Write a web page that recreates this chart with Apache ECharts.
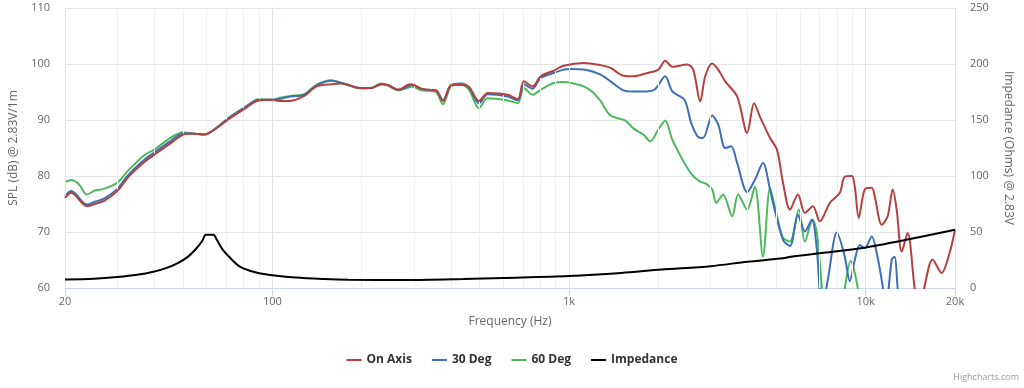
<!DOCTYPE html>
<html>
<head>
<meta charset="utf-8">
<script src="https://cdn.jsdelivr.net/npm/echarts@6/dist/echarts.min.js"></script>
<style>
html,body{margin:0;padding:0;background:#fff;}
#chart{width:1024px;height:388px;}
</style>
</head>
<body>
<div id="chart"></div>
<script>
// ---- data (frequency Hz, value) ----
const seriesNames = ['On Axis', '30 Deg', '60 Deg', 'Impedance'];
const xTickValues = [20, 100, 1000, 10000, 20000];
const xTickLabels = ['20', '100', '1k', '10k', '20k'];
const minorGridFreqs = [30,40,50,60,70,80,90,200,300,400,500,600,700,800,900,2000,3000,4000,5000,6000,7000,8000,9000];
const majorGridFreqs = [20,100,1000,10000,20000];
const splTicks = [60,70,80,90,100,110];
const impTicks = [0,50,100,150,200,250];

const onAxis = [[20,76.1],[21,77.0],[23.7,74.6],[25.2,75.0],[27,75.5],[30,77.3],[32.8,79.9],[37.2,82.6],[40,83.8],[44.7,85.6],[50,87.4],[53.5,87.6],[59,87.4],[64,88.3],[71,90.1],[80.5,92.0],[90,93.5],[100,93.6],[107,93.4],[115,93.4],[128,94.3],[141,96.0],[158,96.4],[171,96.5],[199,95.7],[215,95.7],[233,96.4],[246,96.2],[266,95.4],[287,96.3],[295,96.4],[317,95.6],[335,95.4],[356,95.3],[376,93.4],[400,96.2],[432,96.3],[460,95.9],[497,93.4],[532,94.8],[621,94.5],[672,93.7],[704,96.9],[754,96.0],[802,97.8],[887,98.8],[959,99.7],[1120,100.2],[1277,99.8],[1380,99.3],[1525,97.9],[1648,97.8],[1837,98.4],[2000,99.0],[2110,100.6],[2229,99.5],[2503,99.9],[2622,99.0],[2768,93.3],[2877,97.8],[3039,100.1],[3183,99.0],[3361,96.9],[3688,94.2],[3985,87.7],[4205,93.0],[4406,90.5],[4759,86.8],[5024,84.7],[5263,78.8],[5556,74.0],[5910,76.7],[6238,73.4],[6637,74.6],[7008,71.9],[7573,75.2],[8180,77.0],[8502,79.9],[8977,80.0],[9188,78.1],[9476,72.5],[9925,77.6],[10478,77.9],[10724,76.4],[11324,71.3],[11862,72.8],[12330,77.6],[12720,74.0],[13222,66.5],[13850,69.8],[14620,60],[15197,55],[15798,60.3],[16807,65.1],[18020,62.7],[19165,66.2],[20000,70.4]];

const deg30 = [[20,76.4],[21,77.3],[23.7,74.9],[25.2,75.4],[27,75.9],[30,77.7],[32.8,80.3],[37.2,83.0],[40,84.2],[44.7,86.0],[50,87.6],[53.5,87.6],[59,87.4],[64,88.4],[71,90.3],[80.5,92.2],[90,93.6],[100,93.6],[107,93.8],[115,94.2],[128,94.5],[141,96.2],[158,97.0],[171,96.6],[199,95.7],[215,95.7],[233,96.4],[246,96.2],[266,95.4],[287,96.0],[295,96.3],[317,95.6],[335,95.4],[356,95.3],[376,93.5],[400,96.2],[432,96.5],[460,95.8],[497,93.0],[532,94.6],[621,94.2],[672,93.5],[704,96.4],[754,95.6],[802,97.5],[887,98.4],[959,99.0],[1000,99.1],[1120,99.0],[1277,98.1],[1380,96.9],[1525,95.3],[1648,95.1],[1837,95.1],[1950,95.5],[2110,97.8],[2229,95.1],[2450,93.6],[2580,89.5],[2720,87.0],[2830,86.8],[3039,90.8],[3183,89.2],[3361,85.0],[3520,85.3],[3688,82.3],[3985,77.1],[4230,79.3],[4507,82.3],[4759,77.6],[4871,75.2],[5263,68.6],[5556,67.5],[5910,73.1],[6238,70.1],[6585,72.2],[6847,66.8],[7120,56],[7455,61.5],[7995,69.9],[8502,65.6],[8838,61.2],[9188,65.0],[9550,67.7],[9925,67.1],[10478,69.2],[10897,66.2],[11412,60.3],[11681,56],[12237,65],[12523,65.6],[12816,60],[13534,50]];

const deg60 = [[20,78.9],[21,79.3],[22.3,78.5],[23.7,76.7],[25.2,77.4],[27,77.7],[30,78.8],[32.8,81.1],[37.2,83.8],[40,84.7],[44.7,86.6],[50,87.8],[53.5,87.6],[59,87.4],[64,88.4],[71,90.3],[80.5,92.2],[90,93.7],[100,93.6],[107,94.0],[115,94.3],[128,94.6],[141,96.3],[158,97.1],[171,96.6],[199,95.6],[215,95.7],[233,96.5],[246,96.1],[266,95.3],[287,95.8],[295,96.0],[317,95.3],[335,95.2],[356,95.0],[376,92.8],[400,96.0],[432,96.3],[460,95.4],[497,92.1],[532,93.9],[621,93.5],[672,93.0],[704,95.7],[754,94.5],[802,95.4],[887,96.6],[959,96.8],[1000,96.7],[1120,96.0],[1200,95.0],[1277,93.4],[1380,90.8],[1550,89.9],[1648,88.5],[1781,87.4],[1880,86.2],[2000,88.3],[2110,89.9],[2229,86.5],[2450,82.3],[2600,80.2],[2768,79.0],[2900,78.6],[3039,77.6],[3133,75.2],[3307,76.7],[3546,72.8],[3716,76.7],[3985,74.0],[4230,78.1],[4507,65.6],[4759,77.8],[5024,72.8],[5263,69.0],[5556,68.3],[5950,74.0],[6238,68.3],[6620,72.2],[6850,69.8],[7120,60],[7400,52],[8100,52],[8502,60],[8900,64.8],[9188,62.7],[9400,60],[9700,54]];

const impedance = [[20,7.6],[25,8.3],[30,9.8],[35,11.8],[40,14.8],[44,18],[48,22.3],[52,28],[55.6,35.7],[58,42],[59.7,47.6],[63.3,47.6],[65,43],[68,34.2],[72,27],[77.5,19.3],[85,15],[97,11.9],[120,9.3],[150,8],[180,7.4],[280,7.1],[440,8],[600,9],[1000,10.8],[1500,13.5],[2050,16.5],[3000,19.5],[4000,23.5],[5260,26.5],[5600,28],[7100,31.2],[9900,36],[13700,43],[20000,52]];

const colors = ['#b5403d', '#3c6fb6', '#4db85a', '#000000'];
const FONT = '"Open Sans", "DejaVu Sans", sans-serif';

const chart = echarts.init(document.getElementById('chart'), null, {renderer: 'canvas'});

function lineSeries(name, data, color, yIdx, z) {
  return {
    name: name, type: 'line', data: data, yAxisIndex: yIdx, xAxisIndex: 0,
    smooth: 0.3, showSymbol: false, symbol: 'none', clip: true,
    lineStyle: {color: color, width: 2}, itemStyle: {color: color},
    z: z, animation: false, emphasis: {disabled: true}
  };
}

const option = {
  animation: false,
  textStyle: {fontFamily: FONT},
  grid: {left: 63, right: 69, top: 8, bottom: 100, containLabel: false},
  legend: {
    data: seriesNames, top: 349, left: 'center',
    icon: 'rect', itemWidth: 15, itemHeight: 2, itemGap: 20,
    textStyle: {fontSize: 12, fontWeight: 'bold', color: '#333', fontFamily: FONT}
  },
  xAxis: {
    type: 'log', logBase: 10, min: 20, max: 20000,
    name: 'Frequency (Hz)', nameLocation: 'middle', nameGap: 28,
    nameTextStyle: {color: '#666', fontSize: 12, fontFamily: FONT},
    axisLine: {show: true, lineStyle: {color: '#ccd6eb', width: 1}},
    axisTick: {show: true, length: 8, lineStyle: {color: '#ccd6eb'}, customValues: xTickValues},
    axisLabel: {
      color: '#666', fontSize: 11, margin: 8, fontFamily: FONT,
      customValues: xTickValues, showMinLabel: true, showMaxLabel: true,
      formatter: function (v) {
        const i = xTickValues.findIndex(t => Math.abs(t - v) / t < 1e-6);
        return i >= 0 ? xTickLabels[i] : '';
      }
    },
    splitLine: {show: false}, minorSplitLine: {show: false}
  },
  yAxis: [
    {
      type: 'value', min: 60, max: 110, interval: 10, position: 'left',
      name: 'SPL (dB) @ 2.83V/1m', nameLocation: 'middle', nameGap: 45, nameRotate: 90,
      nameTextStyle: {color: '#666', fontSize: 12, fontFamily: FONT},
      axisLine: {show: false}, axisTick: {show: false},
      axisLabel: {color: '#666', fontSize: 11, margin: 15, fontFamily: FONT},
      splitLine: {show: true, lineStyle: {color: '#e6e6e6', width: 1}}
    },
    {
      type: 'value', min: 0, max: 250, interval: 50, position: 'right',
      name: 'Impedance (Ohms) @ 2.83V', nameLocation: 'middle', nameGap: 47, nameRotate: -90,
      nameTextStyle: {color: '#666', fontSize: 12, fontFamily: FONT},
      axisLine: {show: false}, axisTick: {show: false},
      axisLabel: {color: '#666', fontSize: 11, margin: 15, fontFamily: FONT},
      splitLine: {show: false}
    }
  ],
  graphic: [{
    type: 'text', right: 5, top: 373,
    style: {text: 'Highcharts.com', fill: '#999', font: '9px ' + FONT}
  }],
  series: [
    {
      name: 'grid', type: 'line', data: [], xAxisIndex: 0, yAxisIndex: 0, z: 1,
      silent: true, animation: false,
      markLine: {
        silent: true, symbol: ['none', 'none'], animation: false,
        label: {show: false},
        data: minorGridFreqs.map(f => ({xAxis: f, lineStyle: {color: '#f0f0f0', width: 1, type: 'solid'}}))
          .concat(majorGridFreqs.map(f => ({xAxis: f, lineStyle: {color: '#dfe5ef', width: 1, type: 'solid'}})))
      }
    },
    lineSeries(seriesNames[0], onAxis, colors[0], 0, 5),
    lineSeries(seriesNames[1], deg30, colors[1], 0, 4),
    lineSeries(seriesNames[2], deg60, colors[2], 0, 3),
    lineSeries(seriesNames[3], impedance, colors[3], 1, 6)
  ]
};
chart.setOption(option);
</script>
</body>
</html>
